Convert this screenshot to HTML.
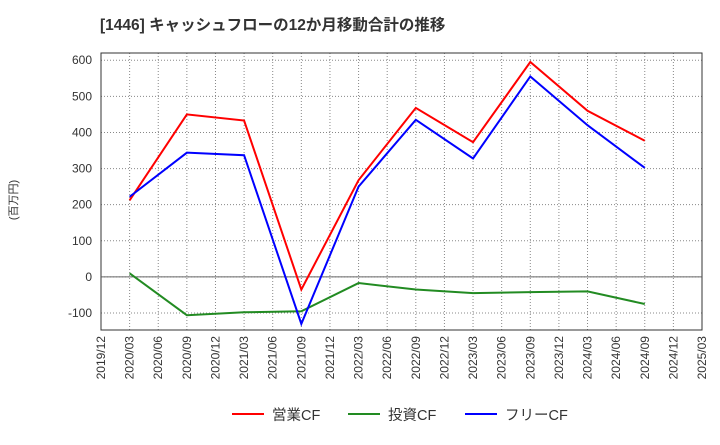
<!DOCTYPE html>
<html><head><meta charset="utf-8"><style>
body{margin:0;background:#fff;font-family:"Liberation Sans","Noto Sans CJK JP",sans-serif;}
</style></head><body>
<svg width="720" height="440" xmlns="http://www.w3.org/2000/svg">
<text x="100" y="30" font-size="15.5" font-weight="bold" fill="#333">[1446]  キャッシュフローの12か月移動合計の推移</text>
<text transform="translate(17,200) rotate(-90)" text-anchor="middle" font-size="11" fill="#333">(百万円)</text>
<g id="grid"></g><g id="axes"></g><g id="series"></g>
<g id="legend"></g>
</svg>
<script>
const categories=["2019/12","2020/03","2020/06","2020/09","2020/12","2021/03","2021/06","2021/09","2021/12","2022/03","2022/06","2022/09","2022/12","2023/03","2023/06","2023/09","2023/12","2024/03","2024/06","2024/09","2024/12","2025/03"];
const pointDates=["2020/03","2020/09","2021/03","2021/09","2022/03","2022/09","2023/03","2023/09","2024/03","2024/09"];
const operatingCF=[212,450,433,-35,268,468,373,595,460,377];
const investingCF=[10,-106,-98,-95,-17,-35,-45,-42,-40,-75];
const freeCF=[222,344,337,-130,250,435,328,555,420,302];
const yTicks=[-100,0,100,200,300,400,500,600];
const ns="http://www.w3.org/2000/svg";
const L=101,R=702,T=53,B=330,yMin=-147,yMax=620;
const x=c=>L+categories.indexOf(c)*(R-L)/(categories.length-1);
const y=v=>B-(v-yMin)*(B-T)/(yMax-yMin);
function mk(tag,attrs,parent,text){const e=document.createElementNS(ns,tag);for(const k in attrs)e.setAttribute(k,attrs[k]);if(text!==undefined)e.textContent=text;document.getElementById(parent).appendChild(e);return e;}
categories.forEach(c=>{
 const g=mk("line",{x1:x(c),x2:x(c),y1:T,y2:B,stroke:"#888","stroke-dasharray":"1,2"},"grid");
 
 
 const t=mk("text",{transform:`translate(${x(c)+4},${B+6}) rotate(-90)`,"text-anchor":"end","font-size":"12",fill:"#333"},"axes",c);
 
 
});
yTicks.forEach(v=>{
 const g=mk("line",{x1:L,x2:R,y1:y(v),y2:y(v),stroke:"#888","stroke-dasharray":"1,2"},"grid");
 
 
 const t=mk("text",{x:L-9,y:y(v)+4,"text-anchor":"end","font-size":"12",fill:"#333"},"axes",v);
 
 
});
const fr=mk("rect",{x:L,y:T,width:R-L,height:B-T,fill:"none",stroke:"#333"},"axes");


const zl=mk("line",{x1:L,x2:R,y1:y(0),y2:y(0),stroke:"#666","stroke-width":1},"axes");


[[operatingCF,"#ff0000","operating-cf-line"],[investingCF,"#228b22","investing-cf-line"],[freeCF,"#0000ff","free-cf-line"]].forEach(([d,col,n])=>{
 const p=mk("polyline",{points:d.map((v,i)=>x(pointDates[i])+","+y(v)).join(" "),fill:"none",stroke:col,"stroke-width":2},"series");
 
 
});
[["営業CF","#ff0000",232],["投資CF","#228b22",348],["フリーCF","#0000ff",465]].forEach(([t,c,lx])=>{
 const l=mk("line",{x1:lx,x2:lx+32,y1:414,y2:414,stroke:c,"stroke-width":2},"legend");
 
 
 const tx=mk("text",{x:lx+40,y:420,"font-size":"14.5",fill:"#333"},"legend",t);
 
 
});
</script>
</body></html>
